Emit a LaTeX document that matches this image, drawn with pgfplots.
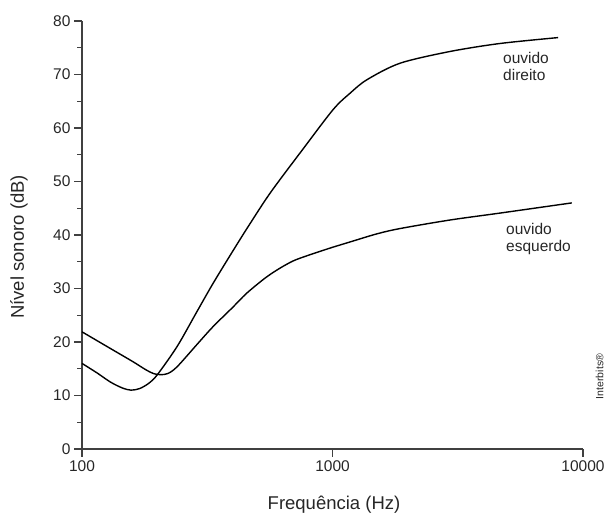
\documentclass[border=0pt]{standalone}
\usepackage{pgfplots}
\pgfplotsset{compat=1.18}
\usepackage{fontspec}
\setmainfont{Liberation Sans}
\begin{document}
\begin{tikzpicture}[x=1pt,y=1pt]
\path[use as bounding box] (-82pt,-65pt) rectangle (524pt,449pt);
\begin{axis}[
  at={(0pt,0pt)}, anchor=south west,
  scale only axis, width=501pt, height=428pt,
  xmode=log, log basis x=10,
  xmin=100, xmax=10000, ymin=0, ymax=80,
  axis x line*=bottom, axis y line*=left,
  axis line style={line width=1.2pt, black!75},
  xtick={100,1000,10000}, xticklabels={100,1000,10000},
  ytick={0,10,...,80}, minor ytick={5,15,...,75},
  tick align=outside,
  major tick length=8pt, minor tick length=5pt,
  every tick/.style={line width=1.1pt, black!75},
  /pgf/number format/assume math mode=true,
  tick label style={font=\fontsize{15.5}{16}\selectfont, text=black!85},
  xlabel={Frequência (Hz)}, ylabel={Nível sonoro (dB)},
  label style={font=\fontsize{18.5}{20}\selectfont, text=black!85},
  xlabel style={at={(axis description cs:0.503,-0.1425)}, anchor=base},
  ylabel style={at={(axis description cs:-0.1257,0.472)}, anchor=center},
  clip=false,
]
% ouvido direito
\addplot[smooth, line width=1.4pt, black] coordinates {
(100,16.0) (115,14.2) (130,12.5) (145,11.4) (157,11.0) (170,11.3) (185,12.3)
(200,13.9) (240,19.2) (287,25.6) (334,31.0) (400,37.0) (461,41.6)
(563,47.8) (741,55.3) (1004,63.4) (1175,66.5) (1370,69.0) (1858,72.1)
(2943,74.3) (4667,75.8) (7960,76.9)};
% ouvido esquerdo
\addplot[smooth, line width=1.4pt, black] coordinates {
(100,21.9) (133,18.5) (160,16.3) (180,14.8) (193,14.1) (205,13.9) (220,14.1)
(240,15.4) (291,19.8) (334,22.9) (400,26.5) (454,29.1) (540,32.0) (617,33.8)
(700,35.2) (800,36.2) (900,37.0) (1000,37.7) (1175,38.7) (1500,40.2)
(1858,41.2) (2943,42.8) (4667,44.1) (9020,46.0)};
\node[anchor=base west, inner sep=0pt, align=left, text=black!85,
  font=\fontsize{15.5}{17.5}\selectfont] at (axis cs:4793,68.8) {ouvido\\direito};
\node[anchor=base west, inner sep=0pt, align=left, text=black!85,
  font=\fontsize{15.5}{17}\selectfont] at (axis cs:4927,37.0) {ouvido\\esquerdo};
\end{axis}
\node[rotate=90, inner sep=0pt, text=black!85, font=\fontsize{10.5}{11}\selectfont]
  at (517.5pt,72.5pt) {Interbits®};
\end{tikzpicture}
\end{document}
